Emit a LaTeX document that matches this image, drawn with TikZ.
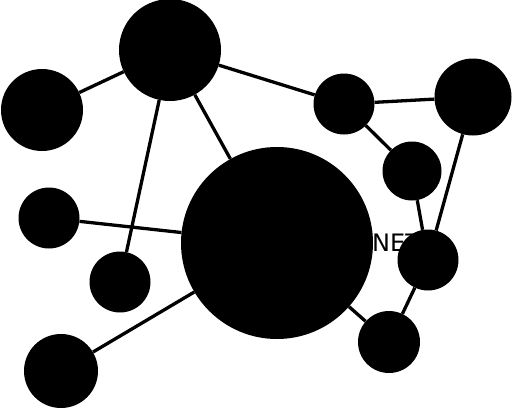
\documentclass[tikz,border=0pt]{standalone}
\usepackage{fontspec}
\setmainfont{DejaVu Sans}
\usetikzlibrary{positioning}

\begin{document}
\begin{tikzpicture}[
        x=1pt, y=-1pt,
        dot/.style={circle, fill=black, inner sep=0pt},
        link/.style={line width=3.3pt}
    ]
    \useasboundingbox (0,0) rectangle (512,408);

    % Label (partly hidden behind the nodes)
    \node[anchor=base west, inner sep=0pt, font=\fontsize{24}{24}\selectfont] (lbl) at (372,251) {NET};

    % Nodes
    \node[dot, minimum size=192pt] (hub) at (277,243) {};
    \node[dot, minimum size=102pt] (top) at (170,50) {};
    \node[dot, minimum size=82pt] (lft) at (42,110) {};
    \node[dot, minimum size=61pt] (mid) at (49,218) {};
    \node[dot, minimum size=61pt] (low) at (120,282) {};
    \node[dot, minimum size=74pt] (btm) at (61,371) {};
    \node[dot, minimum size=61pt] (ne) at (344,104) {};
    \node[dot, minimum size=77pt] (far) at (473,97) {};
    \node[dot, minimum size=59pt] (rgt) at (412,171) {};
    \node[dot, minimum size=61pt] (lbx) at (428,260) {};
    \node[dot, minimum size=62pt] (se) at (389,342) {};

    % Links
    \draw[link] (top) -- (lft); \draw[link] (top) -- (low);
    \draw[link] (top) -- (hub); \draw[link] (top) -- (ne);
    \draw[link] (mid) -- (hub); \draw[link] (btm) -- (hub);
    \draw[link] (hub) -- (se);
    \draw[link] (ne) -- (far); \draw[link] (ne) -- (rgt);
    \draw[link] (rgt) -- (lbx); \draw[link] (far) -- (lbx);
    \draw[link] (lbx) -- (se);
\end{tikzpicture}
\end{document}
